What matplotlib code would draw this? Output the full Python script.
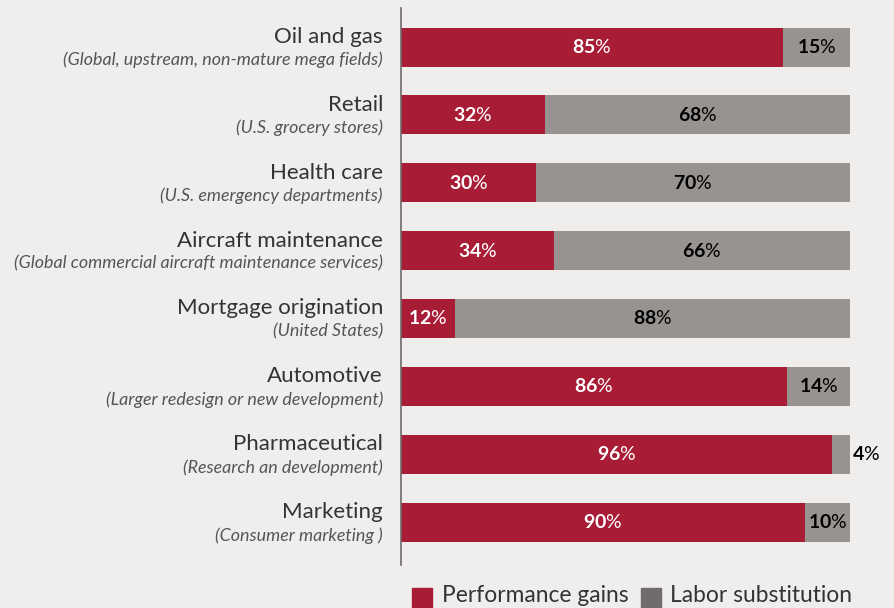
import numpy as np
import matplotlib.pyplot as plt
from matplotlib.patches import Rectangle

categories = ['Oil and gas', 'Retail', 'Health care', 'Aircraft maintenance',
              'Mortgage origination', 'Automotive', 'Pharmaceutical', 'Marketing']
subtitles = ['(Global, upstream, non-mature mega fields)', '(U.S. grocery stores)',
             '(U.S. emergency departments)',
             '(Global commercial aircraft maintenance services)', '(United States)',
             '(Larger redesign or new development)', '(Research an development)',
             '(Consumer marketing )']
performance = [85, 32, 30, 34, 12, 86, 96, 90]
labor = [15, 68, 70, 66, 88, 14, 4, 10]

red = '#a81c36'
gray = '#979391'
bg = '#efeeec'
txt = '#333333'

plt.rcParams['font.family'] = ['Lato', 'DejaVu Sans']
plt.rcParams['mathtext.fontset'] = 'custom'
plt.rcParams['mathtext.bf'] = 'Lato:bold'
plt.rcParams['mathtext.rm'] = 'Lato'

fig = plt.figure(figsize=(8.94, 6.08), dpi=100, facecolor=bg)
ax = fig.add_axes([401 / 894, 1 - 565 / 608, 449 / 894, 557 / 608])
ax.set_facecolor(bg)

y = np.arange(len(categories))
ax.barh(y, performance, height=0.575, color=red)
ax.barh(y, labor, left=performance, height=0.575, color=gray)

ax.set_xlim(0, 100)
ax.set_ylim(7.633, -0.575)
ax.set_xticks([])
ax.set_yticks([])
for s in ['top', 'right', 'bottom']:
    ax.spines[s].set_visible(False)
ax.spines['left'].set_color('#6e6b6a')
ax.spines['left'].set_linewidth(1.2)

for i in range(len(categories)):
    p, l = performance[i], labor[i]
    ax.text(p / 2, i, r'$\mathbf{%d}$%%' % p, ha='center', va='center',
            color='white', fontsize=14)
    if l < 8:
        ax.text(100.5, i, r'$\mathbf{%d}$%%' % l, ha='left', va='center',
                color='black', fontsize=14)
    else:
        ax.text(p + l / 2, i, r'$\mathbf{%d}$%%' % l, ha='center', va='center',
                color='black', fontsize=14)
    ax.annotate(categories[i], xy=(0, i), xytext=(-13, 7.2), textcoords='offset points',
                ha='right', va='center', fontsize=16, color=txt)
    ax.annotate(subtitles[i], xy=(0, i), xytext=(-13, -9.5), textcoords='offset points',
                ha='right', va='center', fontsize=12.9, color='#555555',
                style='italic')

# legend
fig.patches.append(Rectangle((412 / 894, 0), 20 / 894, 20 / 608, color=red,
                             transform=fig.transFigure))
fig.text(442 / 894, 13 / 608, 'Performance gains', fontsize=16.4, color=txt,
         ha='left', va='center')
fig.patches.append(Rectangle((641 / 894, 0), 20 / 894, 20 / 608, color='#6f6c6b',
                             transform=fig.transFigure))
fig.text(670 / 894, 13 / 608, 'Labor substitution', fontsize=16.4, color=txt,
         ha='left', va='center')

fig.savefig('out.png', dpi=100, facecolor=bg)
